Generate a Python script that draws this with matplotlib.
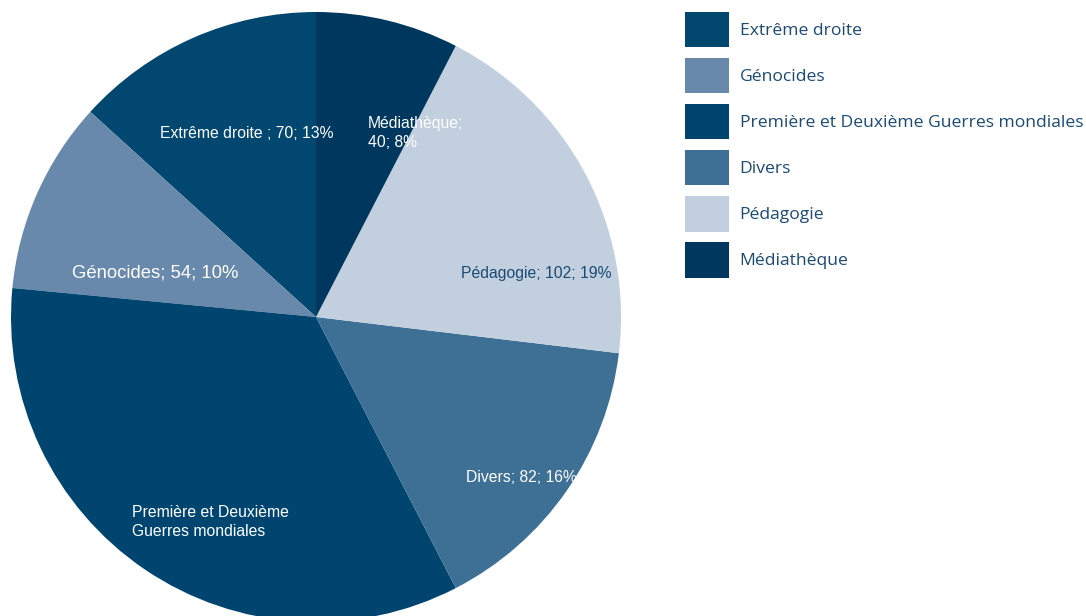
import matplotlib
matplotlib.use("Agg")
import matplotlib.pyplot as plt

# data
categories = ["Extrême droite", "Génocides", "Première et Deuxième Guerres mondiales",
              "Divers", "Pédagogie", "Médiathèque"]
counts = [70, 54, 180, 82, 102, 40]
pct_labels = ["13%", "10%", None, "16%", "19%", "8%"]
colors = ["#01476f", "#6889ab", "#004470", "#3e7096", "#c2cfdf", "#00375f"]

fig = plt.figure(figsize=(10.86, 6.16), dpi=100)
ax = fig.add_axes([11 / 1086, -6 / 616, 610 / 1086, 610 / 616])
wedges, _ = ax.pie(counts, colors=colors, startangle=90, counterclock=True,
                   radius=1, wedgeprops=dict(linewidth=0))
ax.set_xlim(-1, 1)
ax.set_ylim(-1, 1)
ax.set_aspect("equal")
ax.axis("off")

lab_font = "Liberation Sans"

def t(x, y, s, size=11.3, color="white"):
    ax.text(x, y, s, fontsize=size, color=color, family=lab_font,
            ha="left", va="center", linespacing=1.3)

t(-0.511, 0.603, f"{categories[0]} ; {counts[0]}; {pct_labels[0]}")
t(-0.80, 0.144, f"{categories[1]}; {counts[1]}; {pct_labels[1]}", size=13.3)
t(-0.603, -0.672, "Première et Deuxième\nGuerres mondiales")
t(0.492, -0.525, f"{categories[3]}; {counts[3]}; {pct_labels[3]}")
t(0.475, 0.144, f"{categories[4]}; {counts[4]}; {pct_labels[4]}", color="#1b4a72")
t(0.170, 0.603, f"{categories[5]};\n{counts[5]}; {pct_labels[5]}")

leg = fig.legend(wedges, categories, loc="upper left",
                 bbox_to_anchor=(685 / 1086, 1 - 12 / 616),
                 frameon=False, borderpad=0, borderaxespad=0,
                 handlelength=2.52, handleheight=2.72, labelspacing=0.62,
                 handletextpad=0.6,
                 prop=dict(family="Open Sans", size=12.6))
for txt in leg.get_texts():
    txt.set_color("#1b4a72")

fig.savefig("out.png", dpi=100)
